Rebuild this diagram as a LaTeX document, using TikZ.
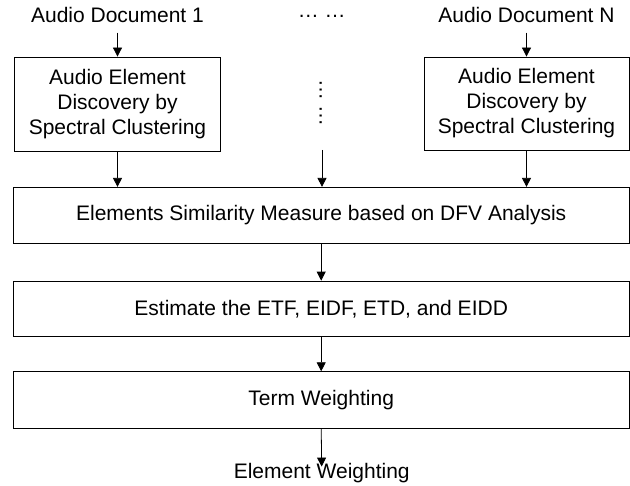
\documentclass[tikz,border=0pt]{standalone}
\usepackage{fontspec}
\setmainfont{Liberation Sans}
\usetikzlibrary{arrows.meta}
\begin{document}
\begin{tikzpicture}[x=1pt,y=-1pt,
  every node/.style={font=\fontsize{21}{25}\selectfont},
  procbox/.style={draw=black, line width=0.8pt, inner sep=0pt, align=center},
  lbl/.style={inner sep=0pt, anchor=base},
  arr/.style={draw=black, line width=0.8pt, -{Triangle[length=9pt,width=9pt]}}]
\useasboundingbox (0,0) rectangle (630,486);

% inputs
\node[lbl] (doc1) at (117.5,22.7) {Audio Document 1};
\node[lbl] (docN) at (526.5,22.7) {Audio Document N};
\node[lbl] (hdots) at (321.7,18) {… …};
\node[inner sep=0pt, anchor=base, rotate=-90] (vdots) at (319.5,103) {… …};

% discovery boxes
\node[procbox, minimum width=206pt, minimum height=94pt] (b1) at (117.5,104) {Audio Element\\Discovery by\\Spectral Clustering};
\node[procbox, minimum width=205pt, minimum height=93pt] (bN) at (526.5,103.5) {Audio Element\\Discovery by\\Spectral Clustering};

% pipeline boxes
\node[procbox, minimum width=615.5pt, minimum height=56pt] (sim) at (321.2,215.3) {Elements Similarity Measure based on DFV Analysis};
\node[procbox, minimum width=615.5pt, minimum height=55.7pt] (est) at (321.2,308.9) {Estimate the ETF, EIDF, ETD, and EIDD};
\node[procbox, minimum width=615.5pt, minimum height=56.6pt] (tw) at (321.2,400) {Term Weighting};
\node[lbl] (ew) at (321.7,479) {Element Weighting};

\coordinate (mid) at (322,150);

% connectors
\draw[arr] ([yshift=-10pt]doc1.base) -- (b1.north);
\draw[arr] ([yshift=-10pt]docN.base) -- (bN.north);
\draw[arr] (b1.south) -- (b1.south |- sim.north);
\draw[arr] (bN.south) -- (bN.south |- sim.north);
\draw[arr] (mid) -- (mid |- sim.north);
\draw[arr] (sim.south) -- (est.north);
\draw[arr] (est.south) -- (tw.north);
\draw[arr] (tw.south) -- ([yshift=-3pt]ew.north);
\end{tikzpicture}
\end{document}
